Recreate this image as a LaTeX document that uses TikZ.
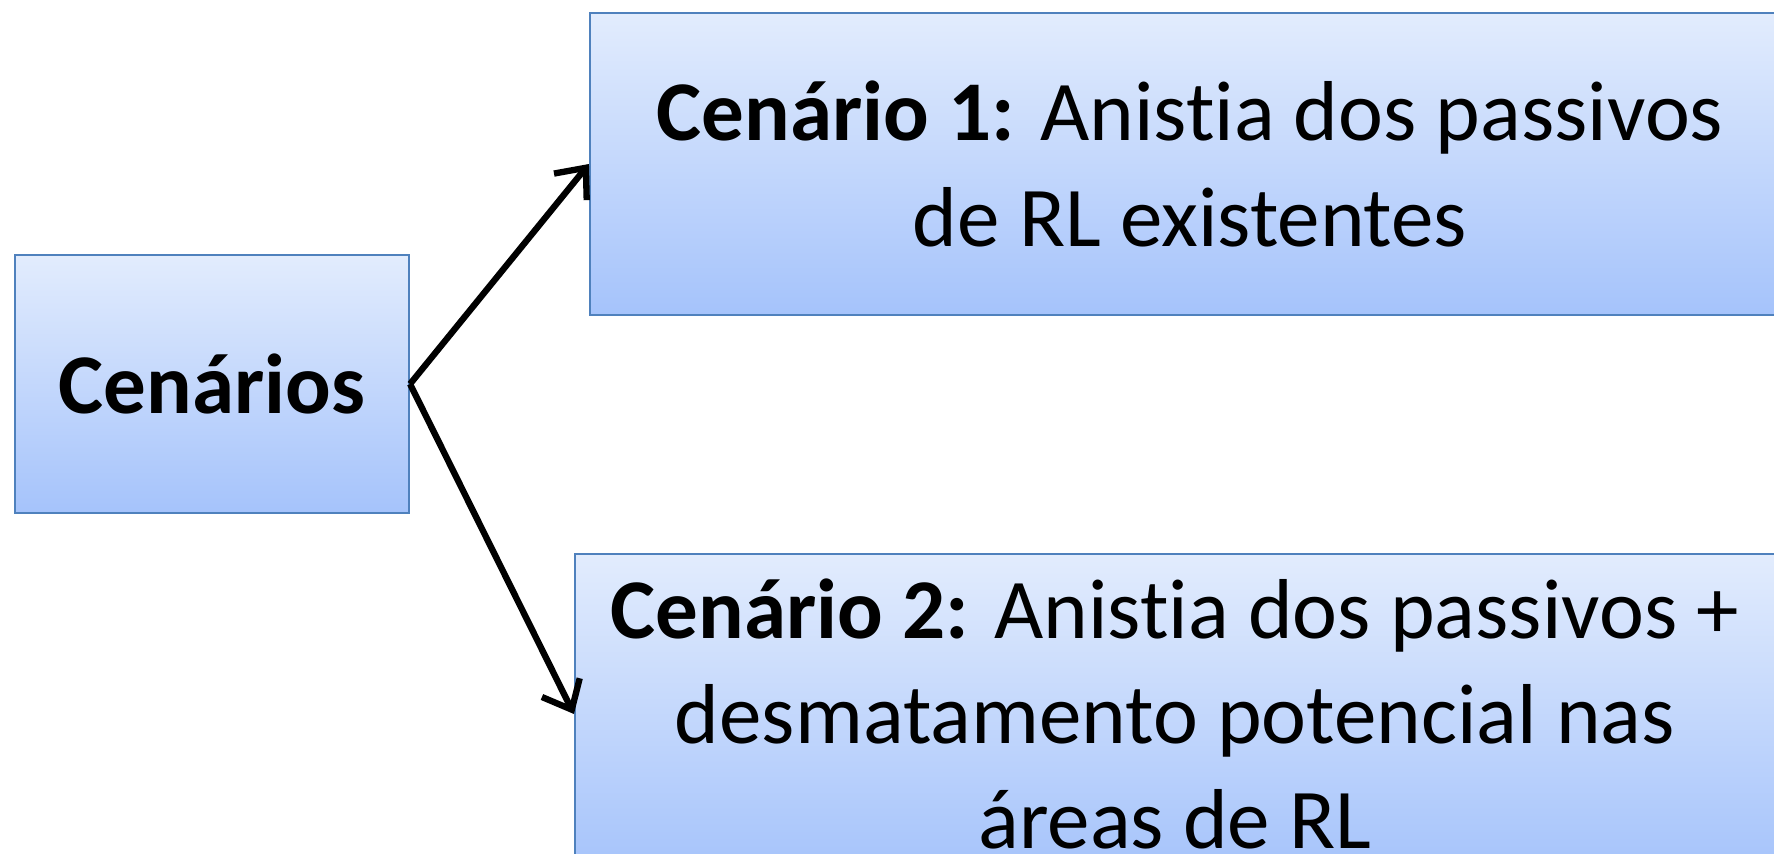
\documentclass[tikz,border=0pt]{standalone}
\usepackage{fontspec}
\setmainfont[RawFeature=-liga, RawFeature=-clig, RawFeature=-dlig,
             RawFeature=-calt, RawFeature=-rlig]{Carlito}
\usepackage{tikz}
\usetikzlibrary{arrows.meta, positioning}

\definecolor{boxtop}{HTML}{E2ECFD}
\definecolor{boxbot}{HTML}{A5C3FB}
\definecolor{boxline}{HTML}{4F81BD}

\begin{document}
\begin{tikzpicture}[
  box/.style={draw=boxline, line width=0.6pt, top color=boxtop,
              bottom color=boxbot, align=center, inner sep=0pt,
              font=\fontsize{24.2}{30}\selectfont},
  arr/.style={-{Straight Barb[length=7pt, width=12pt]}, line width=1.8pt,
              draw=black},
]
% page frame (boxes run off the right and bottom edge)
\clip (0,0) rectangle (17.74,-8.54);

% Main boxes
\node[box, minimum width=3.94cm, minimum height=2.58cm]
  (cen) at (2.12,-3.84) {\textbf{Cenários}};
\node[box, minimum width=12.0cm, minimum height=3.02cm]
  (c1) at (11.9,-1.64)
  {\textbf{Cenário 1:} Anistia dos passivos\\de RL existentes};
\node[box, minimum width=12.0cm, minimum height=3.2cm]
  (c2) at (11.75,-7.14)
  {\textbf{Cenário 2:} Anistia dos passivos +\\desmatamento potencial nas\\áreas de RL};

\draw[arr] (cen.east) -- (c1.west);
\draw[arr] (cen.east) -- (c2.west);
\end{tikzpicture}
\end{document}
